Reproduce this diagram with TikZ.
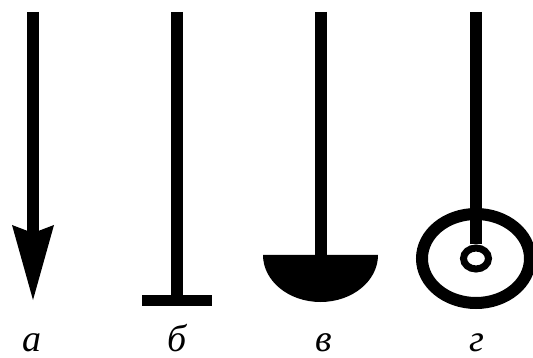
\documentclass[tikz,border=0pt]{standalone}
\usepackage{fontspec}
\setmainfont{Liberation Serif}
\usetikzlibrary{arrows.meta,shapes.geometric,positioning}
\definecolor{ink}{HTML}{000000}
\tikzset{
  % ---- stems and end marks ---------------------------------------
  stem/.style    = {draw=ink, line width=12pt},
  headtip/.style = {stem, -{Stealth[length=75pt, width=42pt, inset=8pt, line width=0pt]}},
  bar/.style     = {draw=ink, line width=11pt},
  bowl/.style    = {fill=ink},
  ring/.style    = {draw=ink, line width=12pt},
  eye/.style     = {ellipse, draw=ink, line width=7pt, fill=white,
                    inner sep=0pt, minimum width=25pt, minimum height=21pt},
  % ---- letters ---------------------------------------------------
  tag/.style     = {font=\fontsize{38}{40}\selectfont\itshape, text=ink,
                    anchor=base, inner sep=0pt, text depth=0pt},
}
\begin{document}
\begin{tikzpicture}[x=1pt,y=-1pt]
  \useasboundingbox (0,0) rectangle (533,358);
  % a: arrow
  \coordinate (atop) at (33,12);
  \coordinate (atip) at (33,300);
  \draw[headtip] (atop) -- (atip);
  % b: bar
  \coordinate (btop) at (176.5,12);
  \coordinate (bfoot) at (176.5,300.5);
  \coordinate (bl) at (142,300.5);
  \coordinate (br) at (212,300.5);
  \draw[stem] (btop) -- (bfoot);
  \draw[bar] (bl) -- (br);
  % c: half disk
  \coordinate (ctop) at (320.5,12);
  \coordinate (cfoot) at (320.5,256);
  \draw[stem] (ctop) -- (cfoot);
  \fill[bowl] (263,255) arc[start angle=180, end angle=360,
                            x radius=57.5pt, y radius=47pt] -- cycle;
  % d: ring
  \coordinate (dtop) at (476,12);
  \coordinate (dmid) at (476,258.5);
  \draw[ring] (dmid) ellipse[x radius=54pt, y radius=44.5pt];
  \node[eye] (deye) at (dmid) {};
  \draw[stem] (dtop) -- (deye.north);
  % letters
  \node[tag] (la) at (32,351) {а};
  \node[tag] (lb) at (177,351) {б};
  \node[tag] (lc) at (324,351) {в};
  \node[tag] (ld) at (477,351) {г};
\end{tikzpicture}
\end{document}
